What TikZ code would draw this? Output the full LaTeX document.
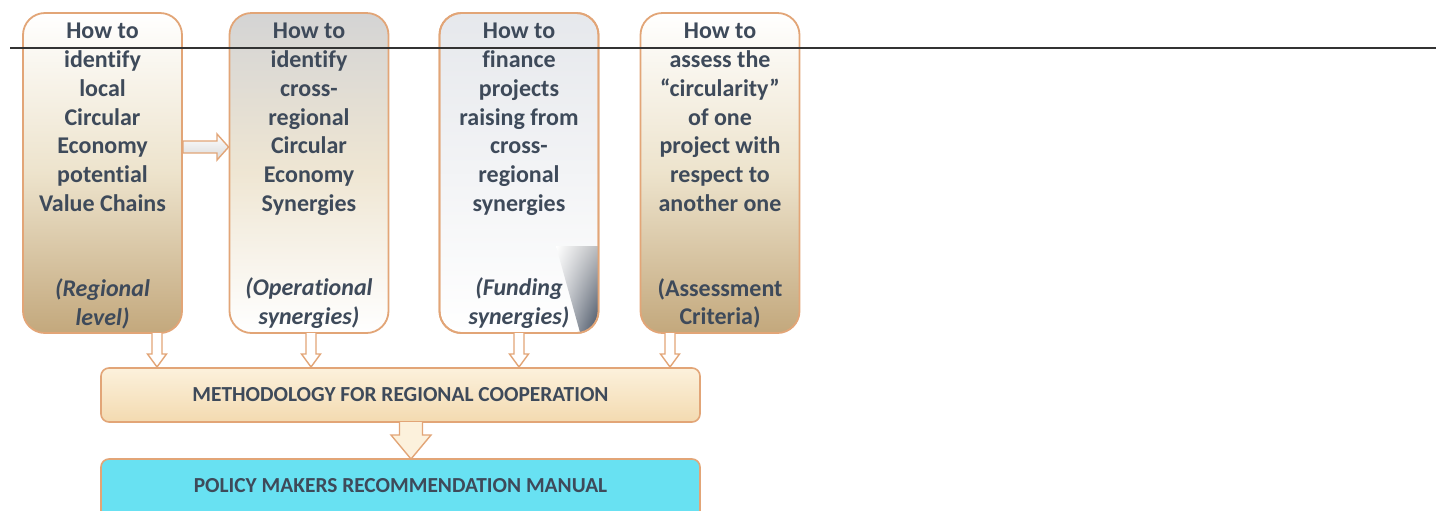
\documentclass[tikz,border=0pt]{standalone}
\usepackage{fontspec}
\setmainfont{Carlito}[Ligatures={NoCommon}]
\usetikzlibrary{calc,shadings}
\definecolor{orangeB}{HTML}{E2A577}
\definecolor{txtC}{HTML}{3E4A5A}
\definecolor{tanB}{HTML}{C3A87C}
\definecolor{tanM}{HTML}{EDE3CC}
\definecolor{grayT}{HTML}{D4D4D4}
\definecolor{beigeM}{HTML}{EFE6D3}
\definecolor{grayL}{HTML}{E6E8EC}
\definecolor{darkC}{HTML}{3A475A}
\definecolor{methT}{HTML}{FCF1DC}
\definecolor{methB}{HTML}{F3DAB0}
\definecolor{cyanF}{HTML}{68E1F2}
\tikzset{
  qbox/.style={draw=orangeB, line width=0.9pt, rounded corners=11pt,
    minimum width=79.5pt, minimum height=160pt, inner sep=0pt},
  qtext/.style={text=txtC, align=center, inner sep=0pt,
    font=\fontsize{12}{14.35}\selectfont\bfseries},
  itext/.style={qtext, font=\fontsize{12}{14.35}\selectfont\bfseries\itshape},
  btext/.style={text=txtC, inner sep=0pt,
    font=\fontsize{10.7}{12}\selectfont\bfseries},
  wide/.style={draw=orangeB, line width=0.8pt, rounded corners=4pt,
    minimum width=299.5pt, minimum height=27pt, inner sep=0pt},
  hollow/.style={draw=orangeB, line width=0.7pt, fill=white},
}
\newcommand\hollowdown[7][hollow]{%
  \filldraw[#1] (#2-#5,#3) -- (#2-#5,#4-#7) -- (#2-#6,#4-#7) -- (#2,#4)
    -- (#2+#6,#4-#7) -- (#2+#5,#4-#7) -- (#2+#5,#3);}
\begin{document}
\begin{tikzpicture}[x=0.5pt,y=-0.5pt]
\useasboundingbox[fill=white] (0,0) rectangle (1436,510);
% four question boxes
\node[qbox, top color=white, bottom color=tanB, middle color=tanM] (b1) at (102.5,173) {};
\node[qbox, top color=grayT, bottom color=white, middle color=beigeM] (b2) at (309,173) {};
\node[qbox, top color=grayL, bottom color=white] (b3) at (519,173) {};
\node[qbox, top color=white, bottom color=tanB, middle color=tanM] (b4) at (720,173) {};
% dark corner in box 3
\begin{scope}
  \clip[rounded corners=11pt] (440,13) rectangle (598,333);
  \shade[upper left=white, upper right=grayL!80!black, lower left=grayL!90!black, lower right=darkC]
    (556,246) -- (600,246) -- (600,336) -- (581,336) -- cycle;
\end{scope}
\node[qbox] at (b3) {};
% arrow between box 1 and box 2
\shade[draw=orangeB, line width=0.7pt, top color=white, bottom color=black!15]
  (b1.east |- 0,141) -- (217,141) -- (217,134) -- (b2.west |- 0,147) -- (217,160) -- (217,153) -- (b1.east |- 0,153) -- cycle;
% texts
\node[qtext, anchor=north] (t1) at (102.5,23) {How to\\identify\\local\\Circular\\Economy\\potential\\Value Chains};
\node[qtext, anchor=north] (t2) at (309,23) {How to\\identify\\cross-\\regional\\Circular\\Economy\\Synergies};
\node[qtext, anchor=north] (t3) at (519,23) {How to\\finance\\projects\\raising from\\cross-\\regional\\synergies};
\node[qtext, anchor=north] (t4) at (720,23) {How to\\assess the\\“circularity”\\of one\\project with\\respect to\\another one};
\node[itext, anchor=south] (u1) at (102.5,329) {(Regional\\level)};
\node[itext, anchor=south] (u2) at (309,329) {(Operational\\synergies)};
\node[itext, anchor=south] (u3) at (519,329) {(Funding\\synergies)};
\node[qtext, anchor=south] (u4) at (720,329) {(Assessment\\Criteria)};
% bottom boxes
\node[wide, top color=methT, bottom color=methB] (meth) at (400.5,395) {};
\node[btext] at (meth) {METHODOLOGY FOR REGIONAL COOPERATION};
\node[wide, fill=cyanF, minimum height=30pt] (pol) at (400.5,489) {};
\node[btext] at (400.5,486) {POLICY MAKERS RECOMMENDATION MANUAL};
% down arrows
\hollowdown{157}{333}{367}{5}{9.5}{13}
\hollowdown{311}{333}{367}{5}{9.5}{13}
\hollowdown{519}{333}{367}{5}{9.5}{13}
\hollowdown{670}{333}{367}{5}{9.5}{13}
\hollowdown[hollow, fill=methT]{411}{422}{459}{11.5}{20}{24}
% horizontal rule
\coordinate (hl) at (10,48);
\coordinate (hr) at (1436,48);
\draw[line width=1pt, black!80] (hl) -- (hr);
\end{tikzpicture}
\end{document}
